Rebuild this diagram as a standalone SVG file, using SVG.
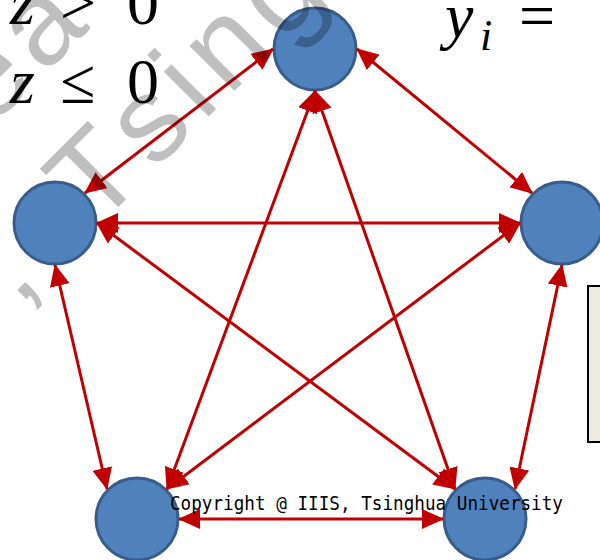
<svg xmlns="http://www.w3.org/2000/svg" width="600" height="560" viewBox="0 0 600 560">
<style>
.node{fill:#4F81BD;stroke:#385D8A;stroke-width:3}
.edge{fill:none;stroke:#C00000;stroke-width:3;marker-start:url(#ah);marker-end:url(#ah)}
.math{font-family:"Liberation Serif","DejaVu Serif",serif;fill:#000}
.wm{font-family:"Liberation Sans",Arial,sans-serif;font-size:120px;fill:#000;fill-opacity:0.25}
.copy{font-family:"DejaVu Sans Mono","Liberation Mono",monospace;font-size:20px;fill:#000}
</style>
<defs>
<marker id="ah" markerUnits="userSpaceOnUse" markerWidth="22" markerHeight="20" viewBox="0 0 22 20" refX="21" refY="10" orient="auto-start-reverse">
<path d="M0,0 L22,10 L0,20 z" fill="#C00000"/>
</marker>
</defs>
<rect width="600" height="560" fill="#fff"/>
<g id="formula-left" class="math" font-size="64">
<text x="10" y="24"><tspan font-style="italic">z</tspan><tspan x="60">&gt;</tspan><tspan x="127">0</tspan></text>
<text x="10" y="103"><tspan font-style="italic">z</tspan><tspan x="60">≤</tspan><tspan x="127">0</tspan></text>
</g>
<g id="formula-right" class="math">
<text x="445" y="37" font-size="64" font-style="italic">y</text>
<text x="480" y="50" font-size="44" font-style="italic">i</text>
<text x="519" y="37" font-size="64">=</text>
<text x="598" y="37" font-size="64">(</text>
</g>
<rect id="side-box" x="588" y="286" width="30" height="156" fill="#EEECE1" stroke="#000" stroke-width="2"/>
<g id="node-top"><circle class="node" cx="315" cy="49" r="41"/></g>
<g id="node-left"><circle class="node" cx="55" cy="223" r="41"/></g>
<g id="node-right"><circle class="node" cx="562" cy="223" r="41"/></g>
<g id="node-bottom-left"><circle class="node" cx="137" cy="519" r="41"/></g>
<g id="node-bottom-right"><circle class="node" cx="485" cy="519" r="41"/></g>
<g id="connectors">
<path class="edge" d="M273,49 L85,193"/>
<path class="edge" d="M357,49 L532,193"/>
<path class="edge" d="M315,91 L167,489"/>
<path class="edge" d="M315,91 L455,489"/>
<path class="edge" d="M97,223 L520,223"/>
<path class="edge" d="M97,223 L455,489"/>
<path class="edge" d="M55,265 L107,489"/>
<path class="edge" d="M520,223 L167,489"/>
<path class="edge" d="M562,265 L515,489"/>
<path class="edge" d="M179,519 L443,519"/>
</g>
<text class="copy" x="170" y="510" textLength="393" lengthAdjust="spacingAndGlyphs">Copyright @ IIIS, Tsinghua University</text>
<g id="watermark" class="wm" transform="rotate(-45)">
<text y="84"><tspan x="-98">e</tspan><tspan x="-22">a</tspan></text>
<text y="230"><tspan x="-204">,</tspan><tspan x="-94">T</tspan><tspan x="-12">s</tspan><tspan x="57">i</tspan><tspan x="93">n</tspan><tspan x="169">g</tspan></text>
</g>
</svg>
